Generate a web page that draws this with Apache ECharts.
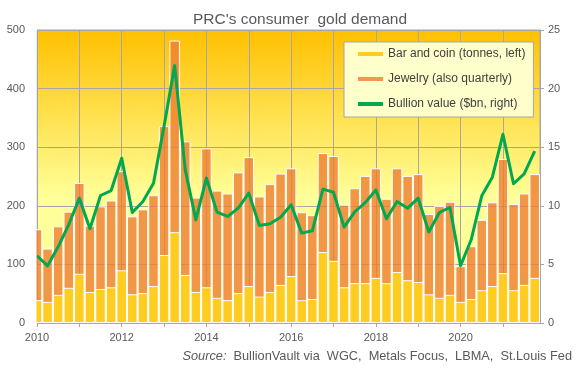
<!DOCTYPE html>
<html>
<head>
<meta charset="utf-8">
<script src="https://cdn.jsdelivr.net/npm/echarts@6/dist/echarts.min.js"></script>
<style>html,body{margin:0;padding:0;background:#fff}#c{width:577px;height:373px}</style>
</head>
<body>
<div id="c"></div>
<script>
// Quarters 2010Q1 .. 2021Q4
const years = [2010,2011,2012,2013,2014,2015,2016,2017,2018,2019,2020,2021];
const quarters = [];
years.forEach(y => { for (let q = 1; q <= 4; q++) quarters.push(y + 'Q' + q); });

// Bar and coin demand, tonnes (left axis)
const barCoin = [39,36,48,60, 84,53,58,61, 90,49,51,63, 116,155,82,53,
                 61,43,39,51, 63,45,53,65, 80,39,41,121, 106,61,68,68,
                 77,68,87,73, 70,49,43,48, 36,41,56,63, 85,56,65,77];
// Jewelry demand, tonnes (left axis)
const jewelry = [121,91,117,130, 155,113,141,148, 169,133,143,155, 220,327,228,161,
                 237,183,182,206, 220,171,184,190, 184,150,143,169, 179,141,162,183,
                 187,144,177,178, 184,137,157,159, 61,90,120,143, 195,147,156,177];
// Bullion value, $bn (right axis)
const bullionValue = [5.74,4.88,6.5,8.4, 10.65,8.04,10.88,11.3, 14.06,9.43,10.37,11.93, 16.8,21.96,13.07,8.8,
                      12.36,9.46,9.09,9.8, 11.08,8.32,8.47,9.03, 10.09,7.67,7.87,11.42, 11.16,8.18,9.49,10.28,
                      11.34,8.89,10.37,9.8, 10.65,7.76,9.43,9.86, 4.89,7.1,10.85,12.44, 16.1,11.88,12.73,14.66];

const seriesNames = ['Bar and coin (tonnes, left)', 'Jewelry (also quarterly)', 'Bullion value ($bn, right)'];

// x position = quarter index since 2010Q1
const FIRST_YEAR = years[0];
const qIndex = quarters.map(s => (parseInt(s.slice(0, 4)) - FIRST_YEAR) * 4 + parseInt(s.slice(5)) - 1);
const pair = arr => arr.map((v, i) => [qIndex[i], v]);
// jewelry segment sits on top of bar & coin: drawn as the cumulative top, with bar & coin overlaid
const stackTop = barCoin.map((v, i) => v + jewelry[i]);

const FONT = '"Liberation Sans", Arial, sans-serif';
const chart = echarts.init(document.getElementById('c'), null, {renderer: 'canvas'});
chart.setOption({
  backgroundColor: '#ffffff',
  animation: false,
  textStyle: {fontFamily: FONT},
  title: [{
    text: "PRC's consumer  gold demand",
    left: 188, top: 7,
    textStyle: {fontSize: 15.5, fontWeight: 'normal', color: '#595959', fontFamily: FONT}
  }, {
    text: '{i|Source:}  BullionVault via  WGC,  Metals Focus,  LBMA,  St.Louis Fed',
    right: 5, top: 350, padding: 0,
    textStyle: {fontSize: 12.75, fontWeight: 'normal', color: '#595959', fontFamily: FONT,
      rich: {i: {fontStyle: 'italic', fontSize: 12.75, color: '#595959', fontFamily: FONT}}}
  }],
  legend: {
    data: seriesNames,
    orient: 'vertical',
    left: 344, top: 42,
    padding: [5, 8, 6, 14],
    itemGap: 11,
    itemWidth: 25, itemHeight: 4,
    icon: 'rect',
    itemStyle: {borderWidth: 0},
    backgroundColor: '#FFFFCC',
    borderColor: '#A6A6A6', borderWidth: 1,
    textStyle: {fontSize: 12, color: '#404040', fontFamily: FONT, lineHeight: 14}
  },
  grid: {
    left: 37, right: 37, top: 30, bottom: 50,
    show: true,
    borderColor: '#A6A6A6', borderWidth: 1,
    backgroundColor: {
      type: 'linear', x: 0, y: 0, x2: 0, y2: 1,
      colorStops: [{offset: 0, color: '#FFC000'}, {offset: 0.57, color: '#FFFF99'}, {offset: 1, color: '#FFFF9C'}]
    }
  },
  // mask the half of the first quarter's bar that falls left of the plot area
  graphic: [{
    type: 'rect', z: 100, silent: true,
    shape: {x: 27, y: 28, width: 9.5, height: 296},
    style: {fill: '#ffffff'}
  }],
  xAxis: {
    type: 'value', min: 0, max: 47.5, interval: 4,
    axisLine: {show: true, lineStyle: {color: '#A6A6A6'}},
    axisTick: {show: true, length: 4, lineStyle: {color: '#A6A6A6'}},
    axisLabel: {
      margin: 9, fontSize: 11, color: '#595959', fontFamily: FONT,
      showMaxLabel: false,
      formatter: v => (Math.abs(v % 8) < 1e-6) ? String(FIRST_YEAR + v / 4) : ''
    },
    splitLine: {show: true, lineStyle: {color: '#A6A6A6', width: 1}}
  },
  yAxis: [{
    type: 'value', min: 0, max: 500, interval: 100,
    axisLine: {show: false},
    axisTick: {show: false},
    axisLabel: {margin: 12, fontSize: 11, color: '#595959', fontFamily: FONT},
    splitLine: {show: true, lineStyle: {color: '#A6A6A6', width: 1}}
  }, {
    type: 'value', min: 0, max: 25, interval: 5,
    position: 'right',
    axisLine: {show: true, lineStyle: {color: '#A6A6A6'}},
    axisTick: {show: true, length: 4, lineStyle: {color: '#A6A6A6'}},
    axisLabel: {margin: 8, fontSize: 11, color: '#595959', fontFamily: FONT},
    splitLine: {show: false}
  }],
  series: [{
    name: seriesNames[1], type: 'bar', yAxisIndex: 0,
    barWidth: 10.5, barGap: '-100%', clip: true,
    itemStyle: {color: 'rgba(237,125,49,0.8)', borderColor: '#ffffff', borderWidth: 1},
    data: pair(stackTop)
  }, {
    name: seriesNames[0], type: 'bar', yAxisIndex: 0,
    barWidth: 10.5, barGap: '-100%', clip: true,
    itemStyle: {color: '#FFCC22', borderColor: '#ffffff', borderWidth: 1},
    data: pair(barCoin)
  }, {
    name: seriesNames[2], type: 'line', yAxisIndex: 1,
    showSymbol: false, symbol: 'none', z: 5,
    itemStyle: {color: '#00A850'},
    lineStyle: {color: '#00A850', width: 3, join: 'round'},
    data: pair(bullionValue)
  }]
});
</script>
</body>
</html>
